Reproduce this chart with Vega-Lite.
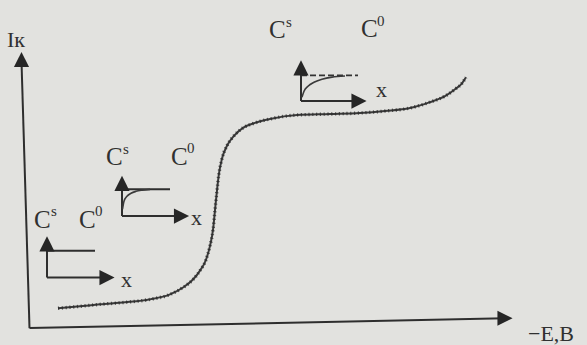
{
  "$schema": "https://vega.github.io/schema/vega-lite/v6.json",
  "width": 587,
  "height": 345,
  "padding": 0,
  "autosize": {"type": "fit", "contains": "padding"},
  "background": "#e2e2df",
  "config": {"view": {"stroke": null}, "axis": {"disable": true}},
  "datasets": {
    "strokes": [
      {"seg": "yaxis", "i": 0, "x": 21.5, "y": 62},
      {"seg": "yaxis", "i": 1, "x": 29.5, "y": 331},
      {"seg": "xaxis", "i": 0, "x": 29.5, "y": 331},
      {"seg": "xaxis", "i": 1, "x": 505, "y": 321},
      {"seg": "a_up", "i": 0, "x": 47, "y": 280},
      {"seg": "a_up", "i": 1, "x": 47, "y": 247},
      {"seg": "a_lvl", "i": 0, "x": 47, "y": 253},
      {"seg": "a_lvl", "i": 1, "x": 95, "y": 253},
      {"seg": "a_x", "i": 0, "x": 47, "y": 280},
      {"seg": "a_x", "i": 1, "x": 107, "y": 280},
      {"seg": "b_up", "i": 0, "x": 122, "y": 218},
      {"seg": "b_up", "i": 1, "x": 122, "y": 186},
      {"seg": "b_lvl", "i": 0, "x": 122, "y": 191},
      {"seg": "b_lvl", "i": 1, "x": 170, "y": 191},
      {"seg": "b_x", "i": 0, "x": 122, "y": 218},
      {"seg": "b_x", "i": 1, "x": 181, "y": 218},
      {"seg": "c_up", "i": 0, "x": 301, "y": 102},
      {"seg": "c_up", "i": 1, "x": 301, "y": 69},
      {"seg": "c_x", "i": 0, "x": 301, "y": 102},
      {"seg": "c_x", "i": 1, "x": 359, "y": 102}
    ],
    "limit": [
      {"seg": "c_lvl", "i": 0, "x": 301, "y": 76},
      {"seg": "c_lvl", "i": 1, "x": 358, "y": 76}
    ],
    "profiles": [
      {"seg": "b", "i": 0, "x": 122.5, "y": 211},
      {"seg": "b", "i": 1, "x": 124, "y": 203},
      {"seg": "b", "i": 2, "x": 127, "y": 198},
      {"seg": "b", "i": 3, "x": 131, "y": 195},
      {"seg": "b", "i": 4, "x": 136, "y": 193},
      {"seg": "b", "i": 5, "x": 142, "y": 191.8},
      {"seg": "b", "i": 6, "x": 150, "y": 191},
      {"seg": "c", "i": 0, "x": 302, "y": 98},
      {"seg": "c", "i": 1, "x": 304, "y": 92},
      {"seg": "c", "i": 2, "x": 308, "y": 87},
      {"seg": "c", "i": 3, "x": 314, "y": 83},
      {"seg": "c", "i": 4, "x": 322, "y": 80},
      {"seg": "c", "i": 5, "x": 332, "y": 77.8},
      {"seg": "c", "i": 6, "x": 345, "y": 76.6}
    ],
    "wave": [
      {"i": 0, "x": 58, "y": 311},
      {"i": 1, "x": 80, "y": 309},
      {"i": 2, "x": 100, "y": 307},
      {"i": 3, "x": 125, "y": 305},
      {"i": 4, "x": 150, "y": 302},
      {"i": 5, "x": 170, "y": 297},
      {"i": 6, "x": 183, "y": 290},
      {"i": 7, "x": 193, "y": 282},
      {"i": 8, "x": 200, "y": 273},
      {"i": 9, "x": 206, "y": 262},
      {"i": 10, "x": 210, "y": 248},
      {"i": 11, "x": 213, "y": 232},
      {"i": 12, "x": 215, "y": 212},
      {"i": 13, "x": 217, "y": 192},
      {"i": 14, "x": 219, "y": 175},
      {"i": 15, "x": 222, "y": 160},
      {"i": 16, "x": 227, "y": 147},
      {"i": 17, "x": 234, "y": 137},
      {"i": 18, "x": 243, "y": 129},
      {"i": 19, "x": 255, "y": 124},
      {"i": 20, "x": 270, "y": 120},
      {"i": 21, "x": 297, "y": 116},
      {"i": 22, "x": 330, "y": 115},
      {"i": 23, "x": 360, "y": 114},
      {"i": 24, "x": 385, "y": 112},
      {"i": 25, "x": 410, "y": 109},
      {"i": 26, "x": 430, "y": 103},
      {"i": 27, "x": 445, "y": 97},
      {"i": 28, "x": 455, "y": 90},
      {"i": 29, "x": 462, "y": 84},
      {"i": 30, "x": 466, "y": 78}
    ],
    "heads": [
      {"dir": "up", "x": 21.5, "y": 60},
      {"dir": "right", "x": 505, "y": 321},
      {"dir": "up", "x": 47, "y": 246},
      {"dir": "right", "x": 107, "y": 280},
      {"dir": "up", "x": 122, "y": 185},
      {"dir": "right", "x": 181.5, "y": 218},
      {"dir": "up", "x": 301, "y": 68.5},
      {"dir": "right", "x": 359, "y": 102}
    ],
    "symbols": [
      {"x": 34, "y": 230, "t": "C"},
      {"x": 79, "y": 230, "t": "C"},
      {"x": 106, "y": 166, "t": "C"},
      {"x": 171, "y": 166, "t": "C"},
      {"x": 269, "y": 38, "t": "C"},
      {"x": 361, "y": 37, "t": "C"}
    ],
    "supers": [
      {"x": 51, "y": 218, "t": "s"},
      {"x": 95, "y": 218, "t": "0"},
      {"x": 123, "y": 155, "t": "s"},
      {"x": 187, "y": 154, "t": "0"},
      {"x": 286, "y": 27, "t": "s"},
      {"x": 377, "y": 26, "t": "0"}
    ],
    "names": [
      {"x": 7, "y": 47, "t": "Iк"},
      {"x": 528, "y": 344, "t": "−E,B"},
      {"x": 121, "y": 290, "t": "x"},
      {"x": 191, "y": 227, "t": "x"},
      {"x": 376, "y": 98, "t": "x"}
    ]
  },
  "layer": [
    {
      "data": {"name": "strokes"},
      "mark": {"type": "line", "color": "#2e2e2e", "strokeWidth": 2},
      "encoding": {
        "x": {"field": "x", "type": "quantitative", "scale": {"domain": [0, 587], "nice": false, "zero": false}, "axis": null},
        "y": {"field": "y", "type": "quantitative", "scale": {"domain": [0, 345], "nice": false, "zero": false, "reverse": true}, "axis": null},
        "detail": {"field": "seg"},
        "order": {"field": "i"}
      }
    },
    {
      "data": {"name": "limit"},
      "mark": {"type": "line", "color": "#333333", "strokeWidth": 1.6, "strokeDash": [6, 3]},
      "encoding": {
        "x": {"field": "x", "type": "quantitative"},
        "y": {"field": "y", "type": "quantitative"},
        "detail": {"field": "seg"},
        "order": {"field": "i"}
      }
    },
    {
      "data": {"name": "profiles"},
      "mark": {"type": "line", "color": "#3a3a3a", "strokeWidth": 1.6, "interpolate": "monotone"},
      "encoding": {
        "x": {"field": "x", "type": "quantitative"},
        "y": {"field": "y", "type": "quantitative"},
        "detail": {"field": "seg"},
        "order": {"field": "i"}
      }
    },
    {
      "data": {"name": "wave"},
      "mark": {"type": "line", "color": "#3a3a3a", "strokeWidth": 2, "interpolate": "monotone"},
      "encoding": {
        "x": {"field": "x", "type": "quantitative"},
        "y": {"field": "y", "type": "quantitative"},
        "order": {"field": "i"}
      }
    },
    {
      "data": {"name": "wave"},
      "mark": {"type": "line", "color": "#2a2a2a", "strokeWidth": 3.4, "strokeDash": [1.2, 2.6], "opacity": 0.75, "interpolate": "monotone"},
      "encoding": {
        "x": {"field": "x", "type": "quantitative"},
        "y": {"field": "y", "type": "quantitative"},
        "order": {"field": "i"}
      }
    },
    {
      "data": {"name": "heads"},
      "mark": {"type": "point", "filled": true, "opacity": 1, "size": 230, "strokeWidth": 0},
      "encoding": {
        "x": {"field": "x", "type": "quantitative"},
        "y": {"field": "y", "type": "quantitative"},
        "shape": {"field": "dir", "type": "nominal", "scale": {"domain": ["up", "right"], "range": ["M-1,1L1,1L0,-1Z", "M-1,-1L1,0L-1,1Z"]}, "legend": null},
        "color": {"value": "#262626"}
      }
    },
    {
      "data": {"name": "symbols"},
      "mark": {"type": "text", "font": "Liberation Serif", "fontSize": 25, "align": "left", "baseline": "alphabetic", "color": "#303030"},
      "encoding": {
        "x": {"field": "x", "type": "quantitative"},
        "y": {"field": "y", "type": "quantitative"},
        "text": {"field": "t"}
      }
    },
    {
      "data": {"name": "supers"},
      "mark": {"type": "text", "font": "Liberation Serif", "fontSize": 15, "align": "left", "baseline": "alphabetic", "color": "#303030"},
      "encoding": {
        "x": {"field": "x", "type": "quantitative"},
        "y": {"field": "y", "type": "quantitative"},
        "text": {"field": "t"}
      }
    },
    {
      "data": {"name": "names"},
      "mark": {"type": "text", "font": "Liberation Serif", "fontSize": 22, "align": "left", "baseline": "alphabetic", "color": "#303030"},
      "encoding": {
        "x": {"field": "x", "type": "quantitative"},
        "y": {"field": "y", "type": "quantitative"},
        "text": {"field": "t"}
      }
    }
  ]
}
